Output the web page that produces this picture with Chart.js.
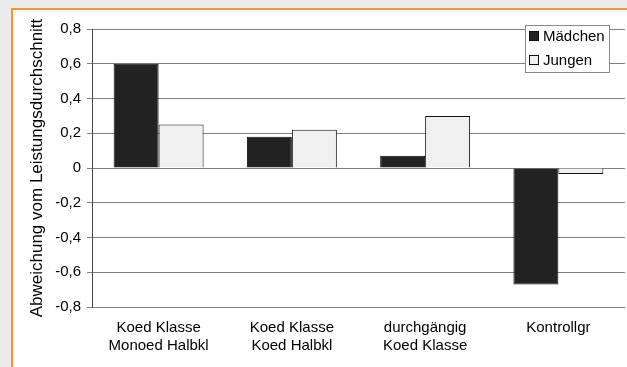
<!DOCTYPE html>
<html>
<head>
<meta charset="utf-8">
<script src="https://cdn.jsdelivr.net/npm/chart.js@4/dist/chart.umd.min.js"></script>
<style>
  html, body { margin: 0; padding: 0; background: #ececec; width: 627px; height: 367px; overflow: hidden; }
  #frame {
    position: absolute; left: 11px; top: 8px;
    width: 614px; height: 357px;
    border-left: 2px solid #f7962a; border-top: 2px solid #f7962a;
    background: #ffffff;
  }
  #chart { display: block; }
</style>
</head>
<body>
<div id="frame"><canvas id="chart" width="614" height="357"></canvas></div>
<script>
// Gruppen (zweizeilige Beschriftung)
const categories = [
  ['Koed Klasse', 'Monoed Halbkl'],
  ['Koed Klasse', 'Koed Halbkl'],
  ['durchgängig', 'Koed Klasse'],
  ['Kontrollgr']
];
const seriesNames = ['Mädchen', 'Jungen'];
const maedchen = [0.60, 0.18, 0.07, -0.67];
const jungen = [0.25, 0.22, 0.30, -0.035];
const yTicks = [-0.8, -0.6, -0.4, -0.2, 0, 0.2, 0.4, 0.6, 0.8];
const yTitle = 'Abweichung vom Leistungsdurchschnitt';

const FONT = '"Liberation Sans", Arial, sans-serif';

// Legende als Kasten innerhalb der Zeichenfläche oben rechts
const boxLegend = {
  id: 'boxLegend',
  afterDraw(chart) {
    const ctx = chart.ctx;
    const x = 512, y = 15, w = 84, h = 47;
    ctx.save();
    ctx.fillStyle = '#ffffff';
    ctx.fillRect(x, y, w, h);
    ctx.strokeStyle = '#8a8a8a';
    ctx.lineWidth = 1;
    ctx.strokeRect(x + 0.5, y + 0.5, w, h);
    ctx.font = '15px ' + FONT;
    ctx.textBaseline = 'middle';
    chart.data.datasets.forEach((ds, i) => {
      const cy = y + 11 + i * 24;
      ctx.fillStyle = ds.backgroundColor;
      ctx.fillRect(x + 4, cy - 5, 9, 9);
      ctx.strokeStyle = '#111';
      ctx.strokeRect(x + 4.5, cy - 4.5, 9, 9);
      ctx.fillStyle = '#000';
      ctx.fillText(ds.label, x + 18, cy + 0.5);
    });
    ctx.restore();
  }
};

new Chart(document.getElementById('chart'), {
  type: 'bar',
  data: {
    labels: categories,
    datasets: [
      { label: seriesNames[0], data: maedchen, backgroundColor: '#222222', borderColor: '#111111', borderWidth: 1 },
      { label: seriesNames[1], data: jungen, backgroundColor: '#f0f0f0', borderColor: '#111111', borderWidth: 1 }
    ]
  },
  options: {
    responsive: false,
    animation: false,
    events: [],
    layout: { padding: { top: 19, right: 2, left: 0, bottom: 0 } },
    datasets: { bar: { categoryPercentage: 0.675, barPercentage: 1.0 } },
    plugins: { legend: { display: false }, tooltip: { enabled: false } },
    scales: {
      x: {
        grid: { display: false, drawTicks: false },
        border: { display: false },
        ticks: { color: '#000', font: { family: FONT, size: 15 }, padding: 12, maxRotation: 0, autoSkip: false },
        afterFit(scale) { scale.height = 60; }
      },
      y: {
        min: -0.8, max: 0.8,
        afterBuildTicks(scale) { scale.ticks = yTicks.map(v => ({ value: v })); },
        grid: { color: '#808080', lineWidth: 1, tickLength: 5 },
        border: { color: '#444444', width: 1 },
        ticks: {
          color: '#000', padding: 6,
          font: { family: FONT, size: 15 },
          callback: v => (Math.abs(v) < 1e-9 ? '0' : Number(v).toFixed(1).replace('.', ','))
        },
        title: { display: true, text: yTitle, color: '#000', font: { family: FONT, size: 17 }, padding: { top: 14, bottom: 0 } },
        afterFit(scale) { scale.width = 79; }
      }
    }
  },
  plugins: [boxLegend]
});
</script>
</body>
</html>
